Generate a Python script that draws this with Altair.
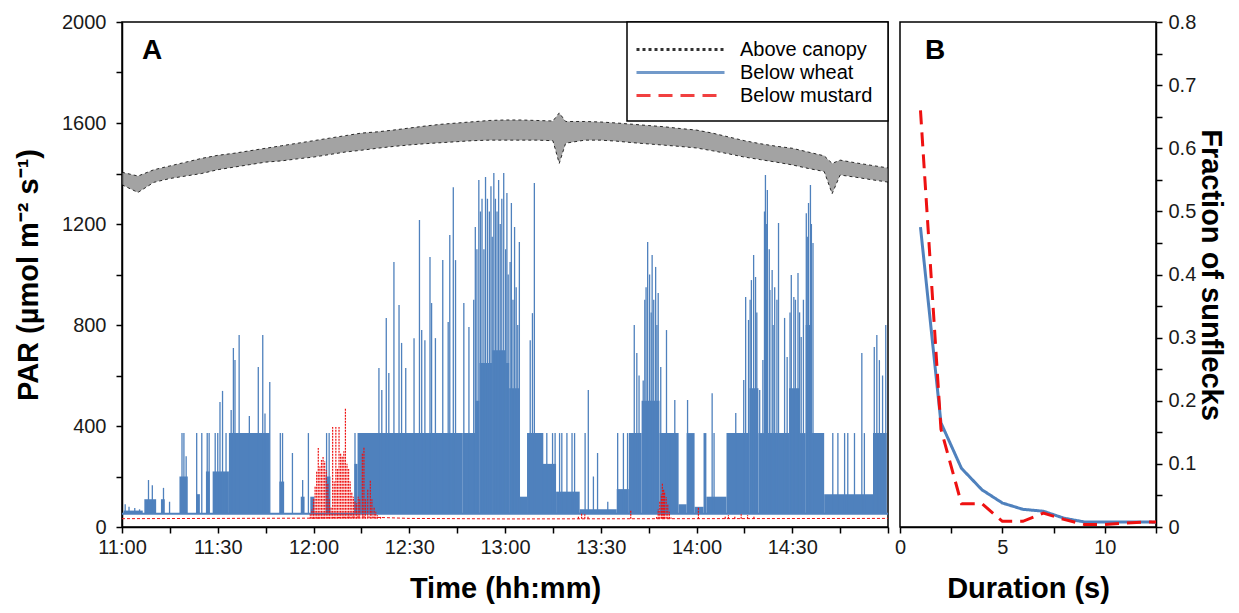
import json
import altair as alt
import pandas as pd

# ---------------- Panel A data (minutes after 11:00, PAR) ----------------
canopy_time = [0, 5, 10, 15, 20, 25, 30, 35, 40, 45, 50, 55, 60, 65, 70, 75, 80, 85, 90, 95,
               100, 105, 110, 115, 120, 125, 130, 135, 137, 139, 145, 150, 155, 160, 165, 170,
               175, 180, 185, 190, 195, 200, 205, 210, 215, 220, 222.5, 225, 230, 235, 240]
canopy_low = [1355, 1325, 1365, 1380, 1390, 1400, 1415, 1425, 1435, 1445, 1450, 1458, 1465, 1475,
              1485, 1492, 1500, 1507, 1513, 1518, 1522, 1526, 1530, 1532, 1532, 1532, 1532, 1530,
              1440, 1520, 1532, 1532, 1528, 1522, 1517, 1512, 1507, 1501, 1490, 1478, 1465, 1455,
              1445, 1434, 1420, 1408, 1320, 1394, 1385, 1375, 1366]
canopy_high = [1405, 1390, 1415, 1430, 1445, 1460, 1472, 1480, 1490, 1500, 1510, 1520, 1530, 1540,
               1550, 1560, 1565, 1572, 1580, 1588, 1595, 1600, 1605, 1610, 1612, 1612, 1610, 1608,
               1640, 1606, 1606, 1604, 1600, 1595, 1590, 1585, 1578, 1572, 1560, 1545, 1530, 1518,
               1508, 1500, 1485, 1470, 1440, 1453, 1442, 1432, 1422]

wheat_base = 52
wheat_base_time = [0, 240]
# filled stretches below wheat: (start min, end min, top PAR)
wheat_blocks = [
    (0.5, 6.5, 65), (7, 10.7, 110), (12.2, 13.4, 110), (18, 20.6, 200), (23.2, 24.4, 130),
    (26.3, 27.5, 220), (28.4, 33.5, 220), (33.5, 46.3, 372), (49.3, 50.8, 180), (56, 57.2, 120),
    (59, 60.3, 120), (63.8, 65.3, 200), (72.8, 73.8, 250), (73.8, 106.6, 372), (106.6, 110.6, 372),
    (110.6, 112, 500), (112, 116, 650), (116, 120, 700), (120, 121.3, 650), (121.3, 124.7, 550),
    (124.7, 126.9, 120), (126.9, 131.6, 372), (131.6, 136, 250), (136, 143.4, 140), (143.4, 155, 70),
    (155, 158.8, 150), (158.8, 162.8, 372), (162.8, 168.4, 500), (168.4, 174.4, 372), (174.4, 176.9, 90),
    (176.9, 179.4, 372), (179.4, 182.2, 80), (182.2, 183.1, 372), (183.1, 189.4, 120), (189.4, 196.6, 372),
    (196.6, 199.4, 550), (199.4, 201.2, 372), (201.2, 202.4, 900), (202.4, 209, 372),
    (209, 212.2, 550), (212.2, 214.2, 372), (214.2, 216.2, 800), (216.2, 220, 372), (220, 235.3, 130),
    (235.3, 239.6, 372),
]
# individual sunfleck spikes below wheat: (min, peak PAR)
wheat_spikes = [
    (1.0, 90), (2.2, 80), (4.0, 75), (5.5, 70), (8.3, 186), (9.5, 165), (13, 155), (14.9, 100),
    (18.8, 372), (19.4, 372), (20.1, 280), (23.4, 372), (25, 372), (26.7, 372), (27.3, 372),
    (29.2, 372), (30, 372), (30.7, 495), (31.5, 539), (32.6, 372), (34.2, 463), (34.9, 709),
    (35.4, 661), (36.7, 760), (39.9, 440), (42.7, 634), (44.1, 760), (44.8, 450), (46.3, 574),
    (49.6, 372), (50.3, 372), (53.4, 293), (56.6, 186), (58.4, 372), (64.1, 372), (64.9, 372),
    (73, 372), (80.5, 630), (81.4, 543), (82.8, 828), (83.6, 610), (85.2, 1050), (86.8, 879),
    (87.6, 729), (88.9, 630), (91.5, 748), (93.2, 1216), (93.9, 780), (94.9, 740), (96.5, 1069),
    (97, 887), (98.2, 748), (100.5, 1057), (102.2, 812), (102.7, 1156), (103.8, 1346), (104.5, 1057),
    (107.1, 887), (108.7, 792), (110.2, 900), (110.7, 1188), (111.2, 1100), (111.8, 1374),
    (112.3, 1250), (112.8, 1300), (113.4, 1100), (113.9, 1386), (114.5, 1300), (115.1, 1250),
    (115.6, 1350), (116, 1150), (116.5, 1402), (117, 1300), (117.5, 1250), (118, 1374), (118.5, 1200),
    (119, 1300), (119.6, 1402), (120.2, 1100), (120.6, 1323), (121, 1000), (121.6, 1050), (122, 1283),
    (122.5, 900), (123, 1188), (123.5, 950), (124, 800), (124.5, 1129), (127.9, 740), (128.6, 847),
    (129.2, 1362), (131.8, 372), (133.1, 372), (134.9, 372), (135.7, 372), (137.1, 372), (137.8, 372),
    (139.4, 372), (141, 372), (141.8, 372), (145.1, 372), (146.1, 543), (147.7, 200), (149, 293),
    (152.2, 100), (155.3, 372), (157.1, 372), (158.4, 372), (160.5, 800), (161.3, 689), (162, 600),
    (163.3, 580), (163.8, 900), (164.2, 950), (164.7, 1129), (165.3, 1000), (165.8, 850), (166.1, 1077),
    (166.6, 900), (167.2, 1030), (167.6, 800), (168, 927), (168.8, 634), (170.6, 780), (171.7, 372),
    (173.2, 503), (177.2, 503), (184.9, 530), (185.5, 372), (192.3, 451), (194.8, 582), (195.4, 911),
    (196.3, 820), (196.8, 900), (197.2, 978), (197.9, 1077), (198.5, 990), (198.9, 850), (199.8, 543),
    (200.8, 661), (201.3, 1250), (201.6, 1394), (202, 1200), (202.2, 1335), (202.8, 1100), (203, 939),
    (203.7, 1018), (204, 800), (204.5, 950), (205.2, 900), (205.7, 1204), (207.6, 828), (208.4, 673),
    (209.3, 850), (209.7, 998), (210.5, 911), (211, 900), (211.8, 1006), (212.3, 850), (212.8, 752),
    (213.5, 900), (214.4, 1243), (214.7, 1150), (215.1, 1283), (215.7, 1354), (216, 1200),
    (216.5, 1125), (222.7, 372), (224.3, 372), (226.4, 372), (227.4, 372), (229.5, 372), (231.8, 689),
    (232.6, 372), (235.7, 713), (236.5, 760), (237.3, 661), (238.3, 600), (239.3, 800),
]

mustard_base = 33
mustard_base_time = [0, 60, 75, 90, 120, 180, 240]
mustard_base_value = [33, 35, 40, 34, 32, 33, 34]
mustard_spikes = [
    (59, 50), (59.5, 70), (60, 110), (60.5, 160), (61, 220), (61.5, 313), (62, 240), (62.5, 265),
    (63, 277), (63.5, 260), (64, 226), (64.5, 170), (65, 110), (65.5, 80), (66, 396), (66.5, 180),
    (67, 396), (67.5, 230), (68, 396), (68.5, 293), (69, 280), (69.5, 300), (70, 471), (70.5, 250),
    (71, 230), (71.5, 180), (72, 140), (72.5, 120), (73, 100), (73.5, 95), (74, 120), (74.5, 110),
    (75.3, 293), (75.8, 317), (76.3, 110), (77, 150), (77.8, 186), (78.3, 110), (79, 80), (79.5, 60),
    (80, 48), (81, 40), (143, 45), (144, 52), (145, 50), (146, 45), (159.4, 67), (167.5, 40),
    (168, 70), (168.5, 100), (169, 130), (169.3, 174), (169.7, 150), (170, 139), (170.5, 119),
    (171, 90), (171.5, 60), (172, 38), (180.6, 79), (189, 42), (190, 48), (192, 45), (194, 50),
    (196, 48), (198, 42),
]

# ---------------- Panel B data ----------------
duration_s = [1, 2, 3, 4, 5, 6, 7, 8, 9, 10, 11, 12, 13]
frac_wheat = [0.475, 0.165, 0.093, 0.059, 0.038, 0.028, 0.025, 0.014, 0.008, 0.008, 0.008, 0.008, 0.007]
frac_mustard = [0.66, 0.155, 0.037, 0.037, 0.009, 0.009, 0.022, 0.012, 0.004, 0.004, 0.006, 0.008, 0.008]

series_names = ["Above canopy", "Below wheat", "Below mustard"]
series_colors = ["#000000", "#4F81BD", "#EE1111"]
series_dash = [[3, 3], [1, 0], [14, 8]]
panel_labels = ["A", "B"]

time_tick_values = list(range(0, 241, 15))
time_label_values = [0, 30, 60, 90, 120, 150, 180, 210]
time_label_text = ["11:00", "11:30", "12:00", "12:30", "13:00", "13:30", "14:00", "14:30"]
par_tick_values = list(range(0, 2001, 200))
par_label_values = [0, 400, 800, 1200, 1600, 2000]
par_label_text = ["0", "400", "800", "1200", "1600", "2000"]
dur_tick_values = [0, 2.5, 5, 7.5, 10, 12.5]
dur_label_values = [0, 5, 10]
dur_label_text = ["0", "5", "10"]
frac_tick_values = [round(i * 0.05, 2) for i in range(17)]
frac_label_values = [round(i * 0.1, 1) for i in range(9)]
frac_label_text = ["0", "0.1", "0.2", "0.3", "0.4", "0.5", "0.6", "0.7", "0.8"]


def label_expr(vals, texts):
    v = json.dumps(vals)
    t = json.dumps(texts)
    return f"indexof({v}, datum.value) >= 0 ? {t}[indexof({v}, datum.value)] : ''"


BLUE = series_colors[1]
RED = series_colors[2]

# ---------------- frames ----------------
df_canopy = pd.DataFrame({"t": canopy_time, "lo": canopy_low, "hi": canopy_high})
df_canopy_long = pd.concat([
    pd.DataFrame({"t": canopy_time, "v": canopy_low, "edge": "low"}),
    pd.DataFrame({"t": canopy_time, "v": canopy_high, "edge": "high"}),
])
df_canopy_long["series"] = "Above canopy"
df_blocks = pd.DataFrame(wheat_blocks, columns=["t0", "t1", "top"])
df_blocks["base"] = wheat_base
df_wspikes = pd.DataFrame(wheat_spikes, columns=["t", "peak"])
df_wspikes["base"] = wheat_base
df_wbase = pd.DataFrame({"t": wheat_base_time, "v": [wheat_base] * len(wheat_base_time)})
df_mbase = pd.DataFrame({"t": mustard_base_time, "v": mustard_base_value})
df_mspikes = pd.DataFrame(mustard_spikes, columns=["t", "peak"])
df_mspikes["base"] = mustard_base

df_frac = pd.concat([
    pd.DataFrame({"d": duration_s, "f": frac_wheat, "series": "Below wheat"}),
    pd.DataFrame({"d": duration_s, "f": frac_mustard, "series": "Below mustard"}),
])

# ---------------- scales / axes ----------------
x_scale_a = alt.Scale(domain=[0, 240], nice=False, zero=False)
y_scale_a = alt.Scale(domain=[0, 2000], nice=False)
ax_x_a = alt.Axis(values=time_tick_values, labelExpr=label_expr(time_label_values, time_label_text),
                  title="Time (hh:mm)", labelFlush=False)
ax_y_a = alt.Axis(values=par_tick_values, labelExpr=label_expr(par_label_values, par_label_text),
                  title="PAR (µmol m⁻² s⁻¹)", titlePadding=18, labelFlush=False)

color_scale = alt.Scale(domain=series_names, range=series_colors)
dash_scale = alt.Scale(domain=series_names, range=series_dash)


def XA(field):
    return alt.X(field, type="quantitative", scale=x_scale_a, axis=ax_x_a)


def YA(field):
    return alt.Y(field, type="quantitative", scale=y_scale_a, axis=ax_y_a)


canopy_band = alt.Chart(df_canopy).mark_area(color="#666666", opacity=0.6).encode(
    x=XA("t"), y=YA("lo"), y2="hi")
canopy_lines = alt.Chart(df_canopy_long).mark_line(strokeWidth=1, opacity=0.8).encode(
    x=XA("t"), y=YA("v"), detail="edge:N",
    color=alt.Color("series:N", scale=color_scale, legend=alt.Legend(title=None)),
    strokeDash=alt.StrokeDash("series:N", scale=dash_scale, legend=alt.Legend(title=None)))
wheat_rect = alt.Chart(df_blocks).mark_rect(color=BLUE).encode(
    x=XA("t0"), x2="t1", y=YA("base"), y2="top")
wheat_rule = alt.Chart(df_wspikes).mark_rule(color=BLUE, strokeWidth=1.3).encode(
    x=XA("t"), y=YA("base"), y2="peak")
wheat_line = alt.Chart(df_wbase).mark_line(color=BLUE, strokeWidth=2).encode(x=XA("t"), y=YA("v"))
mustard_line = alt.Chart(df_mbase).mark_line(color=RED, strokeWidth=1, strokeDash=[3, 2]).encode(
    x=XA("t"), y=YA("v"))
mustard_rule = alt.Chart(df_mspikes).mark_rule(color=RED, strokeWidth=1.2, strokeDash=[2, 1]).encode(
    x=XA("t"), y=YA("base"), y2="peak")
label_a = alt.Chart(pd.DataFrame({"lab": [panel_labels[0]]})).mark_text(
    fontSize=28, fontWeight="bold", align="center", baseline="middle").encode(
    text="lab:N", x=alt.value(30), y=alt.value(29))

panel_a = alt.layer(canopy_band, canopy_lines, wheat_rect, wheat_rule, wheat_line,
                    mustard_line, mustard_rule, label_a).properties(width=766, height=505)

x_scale_b = alt.Scale(domain=[0, 12.5], nice=False, zero=True)
y_scale_b = alt.Scale(domain=[0, 0.8], nice=False)
frac_lines = alt.Chart(df_frac).mark_line(strokeWidth=3, clip=True).encode(
    x=alt.X("d:Q", scale=x_scale_b,
            axis=alt.Axis(values=dur_tick_values, labelExpr=label_expr(dur_label_values, dur_label_text),
                          title="Duration (s)", labelFlush=False)),
    y=alt.Y("f:Q", scale=y_scale_b,
            axis=alt.Axis(orient="right", values=frac_tick_values,
                          labelExpr=label_expr(frac_label_values, frac_label_text),
                          title="Fraction of sunflecks", titleAngle=90, titlePadding=0, labelPadding=6,
                          labelFlush=False)),
    color=alt.Color("series:N", scale=color_scale, legend=None),
    strokeDash=alt.StrokeDash("series:N", scale=dash_scale, legend=None))
label_b = alt.Chart(pd.DataFrame({"lab": [panel_labels[1]]})).mark_text(
    fontSize=28, fontWeight="bold", align="center", baseline="middle").encode(
    text="lab:N", x=alt.value(35), y=alt.value(29))
panel_b = alt.layer(frac_lines, label_b).properties(width=256, height=505)

chart = alt.hconcat(panel_a, panel_b, spacing=0).resolve_scale(
    color="independent", strokeDash="independent"
).resolve_legend(color="independent", strokeDash="independent").properties(
    padding={"left": 5, "top": 3, "right": 0, "bottom": 0}
).configure(font="Liberation Sans").configure_view(
    stroke="black", strokeWidth=1.5
).configure_axis(
    grid=False, labelFontSize=20, labelColor="#1a1a1a", titleFontSize=29, titleFontWeight="bold",
    titleColor="black", domainColor="black", domainWidth=1.5, tickColor="black", tickWidth=1.5,
    tickSize=6, labelPadding=7, titlePadding=12, labelFont="Liberation Sans", titleFont="Liberation Sans"
).configure_axisLeft(labelPadding=10).configure_axisBottom(
    labelPadding=4, titlePadding=17
).configure_legend(
    orient="top-right", offset=0, padding=15, strokeColor="black", strokeWidth=1.5, fillColor="white",
    symbolType="M-4,0H4", symbolSize=484, symbolStrokeWidth=3, symbolOffset=26, labelOffset=47,
    labelFontSize=20, labelColor="black", rowPadding=0, labelFont="Liberation Sans"
)

chart.save("out.html", embed_options={"renderer": "svg", "actions": False})
